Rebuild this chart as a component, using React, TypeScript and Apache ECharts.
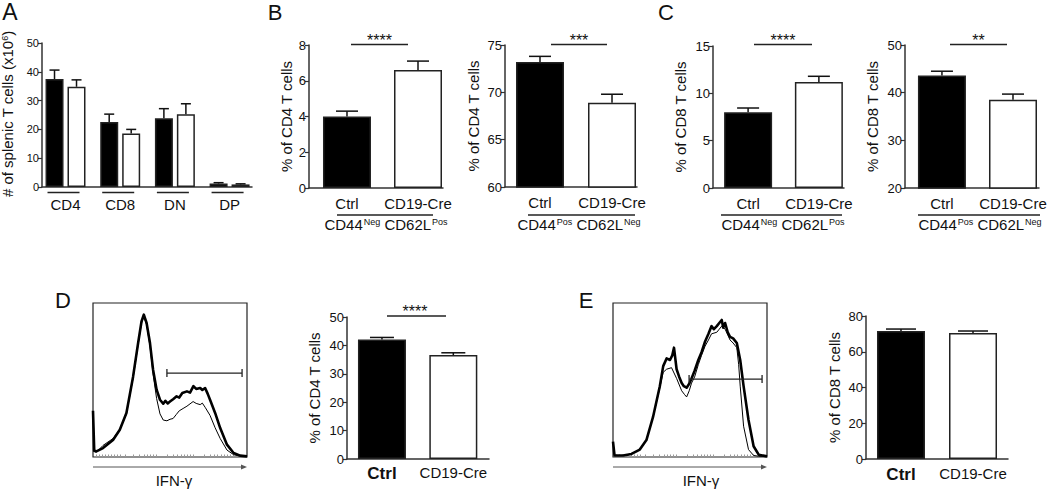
import React, { useEffect, useRef } from "react";
import * as echarts from "echarts";

const FONT = "'Liberation Sans', Arial, Helvetica, sans-serif";
const AXIS = "#333333";
const TXT = "#111111";

// ---------- DATA ----------
// Panel A
const aCategories = ["CD4", "CD8", "DN", "DP"];
const aCtrl = [37.5, 22.6, 23.9, 1.2];
const aCtrlSem = [3.1, 2.7, 3.3, 0.3];
const aCre = [34.8, 18.6, 25.3, 0.9];
const aCreSem = [2.4, 1.4, 3.6, 0.2];

// Groups for B-E
const groups = ["Ctrl", "CD19-Cre"];
const b1Values = [4.0, 6.6];
const b1Sem = [0.3, 0.5];
const b2Values = [73.2, 68.9];
const b2Sem = [0.6, 0.9];
const c1Values = [8.0, 11.2];
const c1Sem = [0.45, 0.6];
const c2Values = [43.6, 38.5];
const c2Sem = [0.9, 1.2];
const dValues = [42.1, 36.6];
const dSem = [0.7, 0.8];
const eValues = [71.6, 70.5];
const eSem = [1.1, 1.1];

// Histograms (x: fluorescence channel 0-100, y: % of max)
const dCtrlHist = [
  [0, 30], [0.8, 4], [2.2, 3.7], [6.5, 5.8], [13, 11], [17.4, 17.7], [21.7, 28.6], [26, 52],
  [29.3, 74], [31.5, 88], [33, 92.4], [34.8, 87], [37, 74], [39, 56.7], [41.3, 43.7], [43.5, 37.2],
  [45.6, 34.6], [47, 36.5], [48.5, 34.8], [50, 36], [52, 37.5], [54.3, 39.4], [56, 38.6], [58, 41.5],
  [61, 42.6], [63, 41.8], [65.2, 46], [67, 44.2], [69.6, 44.8], [71, 43.5], [72.8, 44.8], [74.5, 41],
  [76, 37.2], [79.3, 28.6], [82.6, 18.8], [87, 8], [91.3, 2.6], [95.6, 0.9], [100, 0.4],
];
const dCreHist = [
  [0, 28], [0.8, 3.5], [2.2, 3], [6.5, 7.5], [13, 12], [17.4, 18], [21.7, 28], [26, 51],
  [29.3, 73], [31.5, 87], [33, 91], [34.8, 86], [37, 72], [39, 54], [41.3, 38], [43.5, 28],
  [45.6, 24], [48, 23.5], [50, 24.5], [52, 25], [54, 27.5], [56, 30], [58.5, 31.5], [61, 33],
  [63, 34.5], [65, 36], [67, 34.8], [69.6, 34], [71, 35], [73, 32], [76, 27], [79.3, 19],
  [82.6, 12], [87, 4.5], [91.3, 1.5], [95.6, 0.5], [100, 0.3],
];
const eCtrlHist = [
  [0, 10], [1, 1], [6.5, 1], [12, 2], [17.4, 4.8], [21.7, 11], [26, 26], [30.4, 46], [32.6, 59],
  [34.8, 64], [37, 63], [38.5, 66], [39.6, 71], [41.3, 57], [43, 52], [44.6, 48], [46, 46],
  [47.8, 45], [49.5, 47.5], [51, 51], [53, 56], [55.4, 63], [57.5, 68], [59.8, 75], [62, 80],
  [64, 85], [65.5, 83], [67.4, 85], [69, 87], [70.6, 89], [71.6, 84], [72.8, 87], [74.5, 81],
  [76, 78], [78, 77], [80.4, 74], [82.6, 63], [84.8, 46], [88, 24], [91.3, 7], [94.6, 1.5], [100, 0.4],
];
const eCreHist = [
  [0, 9], [1, 1], [6.5, 1], [12, 2], [17.4, 4.8], [21.7, 11], [26, 26], [30.4, 45], [32.6, 55],
  [34.8, 57], [38, 58], [41.3, 51], [44.6, 43], [46.5, 40.5], [47.8, 39], [49.5, 43], [51, 48],
  [53, 52], [55.4, 60], [57.5, 66], [59.8, 72], [62, 76], [64, 80], [67.4, 81], [69, 83],
  [70.6, 85], [72.8, 83], [76, 76], [78, 74], [80.4, 71], [81.6, 60], [82.6, 46], [84.8, 20],
  [88, 4.8], [91.3, 1], [94.6, 0.5], [100, 0.3],
];
const dGate = [48, 96.8, 54.5];
const eGate = [49.4, 96.8, 50.6];
const histTicks = [2, 4, 6, 8, 10, 12, 14, 16, 18, 21, 26, 30, 33, 35, 37, 39, 41, 48, 52, 55, 57, 59, 61, 63, 65, 72, 76, 79, 81, 83, 85, 87, 89, 91];

// ---------- OPTION BUILD ----------
function buildOption() {
  const grid: any[] = [];
  const xAxis: any[] = [];
  const yAxis: any[] = [];
  const series: any[] = [];
  const g: any[] = [];
  const axisLine = { show: true, onZero: false, lineStyle: { color: AXIS, width: 1.5 } };

  const yTitle = (text: string, x: number, y: number) =>
    g.push({
      type: "text", x, y, rotation: Math.PI / 2, silent: true,
      style: {
        text, fontSize: 15, fontFamily: FONT, fill: TXT, align: "center", verticalAlign: "middle",
        rich: {
          t: { fontSize: 15, fontFamily: FONT, fill: TXT, lineHeight: 16, verticalAlign: "middle" },
          s: { fontSize: 9, fontFamily: FONT, fill: TXT, lineHeight: 9, padding: [0, 0, 5, 0], verticalAlign: "middle" },
        },
      },
    });

  function errorSeries(gi: number, xs: number[], means: number[], sems: number[], capW: number, dx: number) {
    return {
      type: "custom",
      xAxisIndex: gi,
      yAxisIndex: gi,
      z: 5,
      silent: true,
      data: means.map((m, i) => [xs[i], m, m + sems[i]]),
      encode: { x: 0, y: [1, 2] },
      renderItem: (params: any, api: any) => {
        const base = api.coord([api.value(0), api.value(1)]);
        const top = api.coord([api.value(0), api.value(2)]);
        const cx = base[0] + dx;
        const st = { stroke: "#111", lineWidth: 1.5 };
        return {
          type: "group",
          children: [
            { type: "line", shape: { x1: cx, y1: base[1], x2: cx, y2: top[1] }, style: st },
            { type: "line", shape: { x1: cx - capW / 2, y1: top[1], x2: cx + capW / 2, y2: top[1] }, style: st },
          ],
        };
      },
    };
  }

  function yAx(gi: number, p: any) {
    return {
      type: "value",
      gridIndex: gi,
      min: p.yMin,
      max: p.yMax,
      interval: p.yInterval,
      axisLine,
      axisTick: { show: true, length: 4, lineStyle: { color: AXIS, width: 1.2 } },
      splitLine: { show: false },
      axisLabel: { fontSize: p.tickSize || 13, margin: 3, color: TXT, fontFamily: FONT },
    };
  }

  function addBarPanel(p: any) {
    const gi = grid.length;
    grid.push({ left: p.left, top: p.top, width: p.width, height: p.height });
    const xs = p.values.map((_: number, i: number) => i);
    xAxis.push({
      type: "value",
      gridIndex: gi,
      min: p.xMin,
      max: p.xMax,
      axisLine,
      axisTick: { show: false },
      splitLine: { show: false },
      axisLabel: {
        customValues: xs,
        formatter: (v: number) => {
          const name = groups[Math.round(v)];
          if (p.boldCtrl) return Math.round(v) === 0 ? `{b|${name}}` : `{n|${name}}`;
          return name;
        },
        margin: p.labelMargin,
        fontSize: 15,
        color: TXT,
        fontFamily: FONT,
        rich: {
          b: { fontSize: 17, fontWeight: "bold", color: TXT, fontFamily: FONT },
          n: { fontSize: 15, color: TXT, fontFamily: FONT },
        },
      },
    });
    yAxis.push(yAx(gi, p));
    series.push({
      type: "bar",
      xAxisIndex: gi,
      yAxisIndex: gi,
      barWidth: 48,
      z: 2,
      data: p.values.map((v: number, i: number) => ({
        value: [i, v],
        itemStyle: { color: i === 0 ? "#000" : "#fff", borderColor: "#222", borderWidth: 1.5 },
      })),
    });
    series.push(errorSeries(gi, xs, p.values, p.sems, p.capW, 0));
    yTitle(p.title, p.titleX, p.top + p.height / 2);
  }

  function addHist(p: any) {
    const gi = grid.length;
    grid.push({
      left: p.left, top: p.top, width: p.width, height: p.height,
      show: true, borderColor: "#222", borderWidth: 1.2, backgroundColor: "transparent",
    });
    xAxis.push({
      type: "value", gridIndex: gi, min: 0, max: 100,
      axisLine: { show: false },
      axisLabel: { show: false },
      splitLine: { show: false },
      axisTick: { show: true, inside: true, length: 2.5, customValues: histTicks, lineStyle: { color: "#999", width: 1 } },
    });
    yAxis.push({ type: "value", gridIndex: gi, min: 0, max: 100, show: false, splitLine: { show: false } });
    series.push({
      type: "line", xAxisIndex: gi, yAxisIndex: gi, data: p.cre, symbol: "none", silent: true,
      lineStyle: { color: "#000", width: 1 }, z: 3,
    });
    series.push({
      type: "line", xAxisIndex: gi, yAxisIndex: gi, data: p.ctrl, symbol: "none", silent: true,
      lineStyle: { color: "#000", width: 2.6, join: "round" }, z: 4,
    });
    series.push({
      type: "custom", xAxisIndex: gi, yAxisIndex: gi, silent: true, z: 5,
      data: [p.gate],
      encode: { x: [0, 1], y: 2 },
      renderItem: (params: any, api: any) => {
        const a = api.coord([api.value(0), api.value(2)]);
        const b = api.coord([api.value(1), api.value(2)]);
        const st = { stroke: "#222", lineWidth: 1.3 };
        return {
          type: "group",
          children: [
            { type: "line", shape: { x1: a[0], y1: a[1], x2: b[0], y2: b[1] }, style: st },
            { type: "line", shape: { x1: a[0], y1: a[1] - 4, x2: a[0], y2: a[1] + 4 }, style: st },
            { type: "line", shape: { x1: b[0], y1: b[1] - 4, x2: b[0], y2: b[1] + 4 }, style: st },
          ],
        };
      },
    });
  }

  // ----- Panel A -----
  {
    const gi = grid.length;
    grid.push({ left: 42, top: 43, width: 210, height: 144 });
    const xs = aCategories.map((_, i) => i);
    xAxis.push({
      type: "value", gridIndex: gi, min: -0.43, max: 3.41,
      axisLine, axisTick: { show: false }, splitLine: { show: false },
      axisLabel: {
        customValues: xs,
        formatter: (v: number) => aCategories[Math.round(v)],
        margin: 10, fontSize: 15, color: TXT, fontFamily: FONT,
      },
    });
    yAxis.push(yAx(gi, { yMin: 0, yMax: 50, yInterval: 10, tickSize: 11 }));
    yTitle("{t|# of splenic T cells (x10}{s|6}{t|)}", 7, 114);
    series.push({
      type: "bar", name: "Ctrl", xAxisIndex: gi, yAxisIndex: gi, barWidth: 18, barGap: "22%", z: 2,
      data: aCtrl.map((v, i) => [i, v]),
      itemStyle: { color: "#000", borderColor: "#222", borderWidth: 1.5 },
    });
    series.push({
      type: "bar", name: "CD19-Cre", xAxisIndex: gi, yAxisIndex: gi, barWidth: 18, barGap: "22%", z: 2,
      data: aCre.map((v, i) => [i, v]),
      itemStyle: { color: "#fff", borderColor: "#222", borderWidth: 1.5 },
    });
    series.push(errorSeries(gi, xs, aCtrl, aCtrlSem, 10, -11));
    series.push(errorSeries(gi, xs, aCre, aCreSem, 10, 11));
    // group underlines
    series.push({
      type: "custom", xAxisIndex: gi, yAxisIndex: gi, silent: true,
      data: xs.map((i) => [i, 0]),
      encode: { x: 0, y: 1 },
      renderItem: (params: any, api: any) => {
        const c = api.coord([api.value(0), 0]);
        return {
          type: "line",
          shape: { x1: c[0] - 18, y1: c[1] + 5.5, x2: c[0] + 14, y2: c[1] + 5.5 },
          style: { stroke: "#222", lineWidth: 1.6 },
        };
      },
    });
  }

  addBarPanel({ left: 309, top: 45, width: 134, height: 143, xMin: -0.535, xMax: 1.352, yMin: 0, yMax: 8, yInterval: 2, values: b1Values, sems: b1Sem, title: "% of CD4 T cells", titleX: 286, capW: 22, labelMargin: 8 });
  addBarPanel({ left: 505, top: 45, width: 132, height: 142, xMin: -0.486, xMax: 1.347, yMin: 60, yMax: 75, yInterval: 5, values: b2Values, sems: b2Sem, title: "% of CD4 T cells", titleX: 473, capW: 22, labelMargin: 8 });
  addBarPanel({ left: 713, top: 46, width: 131, height: 142, xMin: -0.496, xMax: 1.355, yMin: 0, yMax: 15, yInterval: 5, values: c1Values, sems: c1Sem, title: "% of CD8 T cells", titleX: 680, capW: 22, labelMargin: 8 });
  addBarPanel({ left: 905, top: 45, width: 134, height: 143, xMin: -0.52, xMax: 1.366, yMin: 20, yMax: 50, yInterval: 10, values: c2Values, sems: c2Sem, title: "% of CD8 T cells", titleX: 872.5, capW: 22, labelMargin: 8 });
  addHist({ left: 93, top: 303, width: 154, height: 154, ctrl: dCtrlHist, cre: dCreHist, gate: dGate });
  addBarPanel({ left: 347, top: 317, width: 142, height: 142, xMin: -0.49, xMax: 1.5, yMin: 0, yMax: 50, yInterval: 10, values: dValues, sems: dSem, title: "% of CD4 T cells", titleX: 314, capW: 24, labelMargin: 6, boldCtrl: true });
  addHist({ left: 613, top: 303, width: 154, height: 154, ctrl: eCtrlHist, cre: eCreHist, gate: eGate });
  addBarPanel({ left: 866, top: 316, width: 142, height: 143, xMin: -0.486, xMax: 1.486, yMin: 0, yMax: 80, yInterval: 20, values: eValues, sems: eSem, title: "% of CD8 T cells", titleX: 834, capW: 30, labelMargin: 7, boldCtrl: true });

  // ----- Graphic annotations -----
  const letter = (t: string, x: number, y: number, size = 22) =>
    g.push({ type: "text", x, y, silent: true, style: { text: t, fontSize: size, fontFamily: FONT, fill: TXT, align: "center", verticalAlign: "middle" } });
  letter("A", 10, 12, 23);
  letter("B", 275, 12.5);
  letter("C", 666, 12.5);
  letter("D", 63, 300);
  letter("E", 586, 300);

  const hline = (x1: number, x2: number, y: number, w = 1.5, c = "#222") =>
    g.push({ type: "line", silent: true, shape: { x1, y1: y, x2, y2: y }, style: { stroke: c, lineWidth: w } });
  const stars = (t: string, x: number, y: number) =>
    g.push({ type: "text", x, y, silent: true, style: { text: t, fontSize: 16, fontFamily: FONT, fill: TXT, align: "center", verticalAlign: "middle" } });

  // significance bars
  hline(351, 408, 44.5); stars("****", 379.5, 40);
  hline(551, 607, 44.5); stars("***", 579, 40);
  hline(754, 812, 44.5); stars("****", 783, 40);
  hline(950, 1007, 44.5); stars("**", 978.5, 40);
  hline(387, 446, 316); stars("****", 415, 311);

  // sub-group underlines + labels
  const sub = (x1: number, x2: number, cx: number, a: string, b: string) => {
    hline(x1, x2, 215, 1.5);
    g.push({
      type: "text", x: cx, y: 224, silent: true,
      style: {
        text: `{t|CD44}{s|${a}}{t| CD62L}{s|${b}}`,
        align: "center", verticalAlign: "middle", fontFamily: FONT, fontSize: 15, fill: TXT,
        rich: {
          t: { fontSize: 15, fontFamily: FONT, fill: TXT, color: TXT, lineHeight: 16, verticalAlign: "middle" },
          s: { fontSize: 9, fontFamily: FONT, fill: TXT, color: TXT, lineHeight: 9, padding: [0, 0, 5, 1], verticalAlign: "middle" },
        },
      },
    });
  };
  sub(337, 433, 386, "Neg", "Pos");
  sub(528, 635, 579, "Pos", "Neg");
  sub(721, 842, 783, "Neg", "Pos");
  sub(918, 1040, 980, "Pos", "Neg");

  // histogram x-axis arrows and labels
  const arrow = (x1: number, x2: number, y: number, labelX: number) => {
    hline(x1, x2 - 5, y, 1, "#555");
    g.push({ type: "polygon", silent: true, shape: { points: [[x2 - 6, y - 2.5], [x2, y], [x2 - 6, y + 2.5]] }, style: { fill: "#555" } });
    g.push({ type: "text", x: labelX, y: 480, silent: true, style: { text: "IFN-γ", fontSize: 15, fontFamily: FONT, fill: TXT, align: "center", verticalAlign: "middle" } });
  };
  arrow(93, 247, 467, 174);
  arrow(613, 767, 467, 701);

  return {
    animation: false,
    backgroundColor: "#fff",
    textStyle: { fontFamily: FONT },
    grid,
    xAxis,
    yAxis,
    series,
    graphic: g,
  };
}

export default function App() {
  const ref = useRef<HTMLDivElement>(null);
  useEffect(() => {
    if (!ref.current) return;
    const chart = echarts.init(ref.current, undefined, { renderer: "svg" });
    chart.setOption(buildOption() as any);
    return () => chart.dispose();
  }, []);
  return <div ref={ref} style={{ position: "absolute", left: 0, top: 0, width: 1050, height: 489 }} />;
}
